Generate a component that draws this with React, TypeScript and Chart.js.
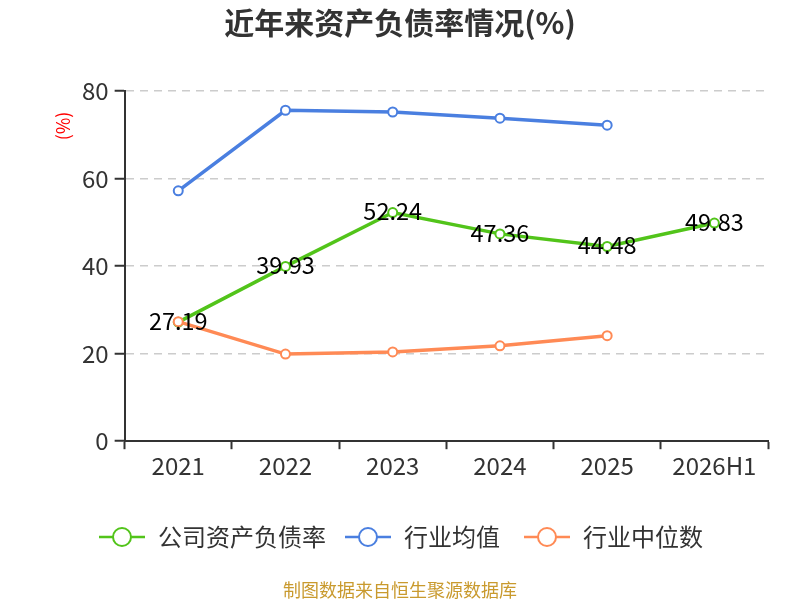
import { useEffect, useRef } from 'react';
import { Chart, registerables, ChartOptions, Plugin } from 'chart.js';

Chart.register(...registerables);

const years = ['2021', '2022', '2023', '2024', '2025', '2026H1'];
const companyRatio = [27.19, 39.93, 52.24, 47.36, 44.48, 49.83];
const industryAvg = [57.2, 75.6, 75.2, 73.8, 72.2, null];
const industryMedian = [27.3, 19.9, 20.4, 21.8, 24.1, null];

const seriesNames = ['公司资产负债率', '行业均值', '行业中位数'];
const seriesColors = ['#52C41A', '#4A7FE0', '#FF8A55'];

const FONT = '"Noto Sans CJK SC", "Noto Sans", sans-serif';

const decorPlugin: Plugin<'line'> = {
  id: 'decor',
  afterDatasetsDraw(chart) {
    const ctx = chart.ctx;
    const meta = chart.getDatasetMeta(0);
    ctx.save();
    ctx.font = `23.5px ${FONT}`;
    ctx.fillStyle = '#000';
    ctx.textAlign = 'center';
    ctx.textBaseline = 'middle';
    meta.data.forEach((pt, i) => {
      ctx.fillText(companyRatio[i].toFixed(2), pt.x, pt.y - 1);
    });
    ctx.restore();
  },
  afterDraw(chart) {
    const ctx = chart.ctx;
    ctx.save();
    // title
    ctx.font = `bold 30px ${FONT}`;
    ctx.fillStyle = '#333';
    ctx.textAlign = 'center';
    ctx.textBaseline = 'middle';
    ctx.fillText('近年来资产负债率情况(%)', 400, 23);

    // y axis unit
    ctx.save();
    ctx.translate(63, 126);
    ctx.rotate(-Math.PI / 2);
    ctx.font = `18px ${FONT}`;
    ctx.fillStyle = '#ff0000';
    ctx.fillText('(%)', 0, 0);
    ctx.restore();

    // legend
    const legendX = [122, 368, 547];
    const legendY = 537;
    ctx.font = `24px ${FONT}`;
    ctx.textAlign = 'left';
    seriesNames.forEach((name, i) => {
      const cx = legendX[i];
      ctx.strokeStyle = seriesColors[i];
      ctx.lineWidth = 2.5;
      ctx.beginPath();
      ctx.moveTo(cx - 23, legendY);
      ctx.lineTo(cx + 23, legendY);
      ctx.stroke();
      ctx.beginPath();
      ctx.arc(cx, legendY, 9, 0, Math.PI * 2);
      ctx.fillStyle = '#fff';
      ctx.fill();
      ctx.lineWidth = 2;
      ctx.stroke();
      ctx.fillStyle = '#333';
      ctx.fillText(name, cx + 36, legendY);
    });

    // footer
    ctx.font = `18px ${FONT}`;
    ctx.fillStyle = '#C99A2E';
    ctx.textAlign = 'center';
    ctx.fillText('制图数据来自恒生聚源数据库', 400, 590);
    ctx.restore();
  },
};

export default function App() {
  const chartRef = useRef<HTMLCanvasElement | null>(null);

  useEffect(() => {
    document.body.style.margin = '0';
    if (!chartRef.current) return;
    const ctx = chartRef.current.getContext('2d');
    if (!ctx) return;

    const makeSet = (label: string, data: (number | null)[], color: string, order: number) => ({
      label,
      data,
      borderColor: color,
      backgroundColor: '#fff',
      borderWidth: 3.5,
      pointRadius: 4.5,
      pointBorderWidth: 2,
      pointBackgroundColor: '#fff',
      pointBorderColor: color,
      tension: 0,
      order,
    });

    const options: ChartOptions<'line'> = {
      responsive: false,
      animation: false,
      layout: { padding: { left: 76, right: 32, top: 91, bottom: 118 } },
      plugins: {
        legend: { display: false },
        title: { display: false },
        tooltip: { enabled: false },
      },
      scales: {
        x: {
          offset: true,
          grid: {
            offset: true,
            drawOnChartArea: false,
            tickLength: 8,
            tickColor: '#333',
            tickWidth: 2,
          },
          border: { color: '#333', width: 2 },
          ticks: { color: '#333', font: { size: 24, family: FONT }, padding: 2 },
        },
        y: {
          min: 0,
          max: 80,
          ticks: { stepSize: 20, color: '#333', font: { size: 24, family: FONT }, padding: 6 },
          grid: {
            color: (c) => (c.tick && c.tick.value === 0 ? 'rgba(0,0,0,0)' : '#ccc'),
            lineWidth: 1.5,
            tickLength: 10,
            tickColor: '#333',
            tickWidth: 2,
          },
          border: { color: '#333', width: 2, dash: [8, 6] },
        },
      },
    };

    const chartInstance = new Chart(ctx, {
      type: 'line',
      data: {
        labels: years,
        datasets: [
          makeSet(seriesNames[0], companyRatio, seriesColors[0], 2),
          makeSet(seriesNames[1], industryAvg, seriesColors[1], 1),
          makeSet(seriesNames[2], industryMedian, seriesColors[2], 0),
        ],
      },
      options,
      plugins: [decorPlugin],
    });

    return () => {
      chartInstance.destroy();
    };
  }, []);

  return (
    <div style={{ width: 800, height: 600 }}>
      <canvas ref={chartRef} width={800} height={600}></canvas>
    </div>
  );
}
